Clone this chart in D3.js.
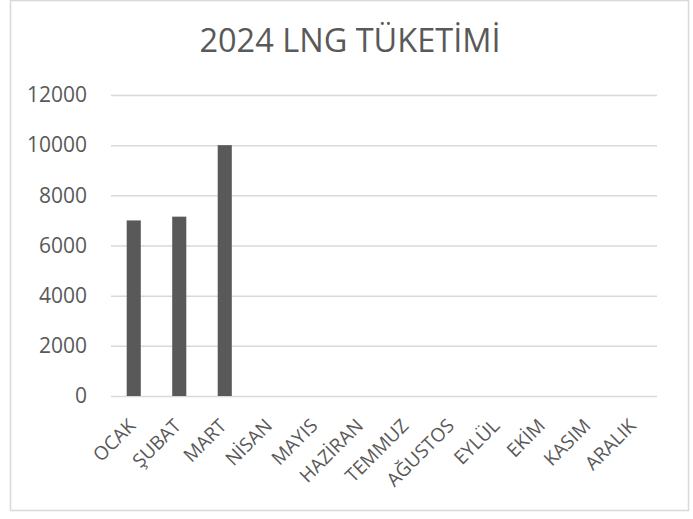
<!DOCTYPE html>
<html><head><meta charset="utf-8">
<script src="https://cdn.jsdelivr.net/npm/d3@7"></script>
<style>body{margin:0;background:#fff;} svg{display:block;}</style>
</head><body>
<script>
const title = "2024 LNG TÜKETİMİ";
const months = ["OCAK","ŞUBAT","MART","NİSAN","MAYIS","HAZİRAN","TEMMUZ","AĞUSTOS","EYLÜL","EKİM","KASIM","ARALIK"];
const values = [7000, 7150, 10000, null, null, null, null, null, null, null, null, null];
const yTicks = [0, 2000, 4000, 6000, 8000, 10000, 12000];

const W = 693, H = 519;
const margin = {left: 111, right: 36, top: 95, bottom: 123};
const svg = d3.select("body").append("svg").attr("width", W).attr("height", H);
svg.append("rect").attr("width", W).attr("height", H).attr("fill", "#fff");
svg.append("rect").attr("x", 10.5).attr("y", 0.5).attr("width", 678).attr("height", 510)
  .attr("fill", "none").attr("stroke", "#d9d9d9").attr("stroke-width", 1.5);

const font = "'Open Sans', sans-serif";
const x = d3.scaleBand().domain(months).range([margin.left, W - margin.right]).paddingInner(0.69).paddingOuter(0.345);
const y = d3.scaleLinear().domain([0, 12000]).range([H - margin.bottom, margin.top]);

svg.append("text").attr("x", 350).attr("y", 52).attr("text-anchor", "middle")
  .attr("font-family", font).attr("font-size", 32.5).attr("fill", "#595959").text(title);

const yAxis = svg.append("g").attr("transform", `translate(${margin.left},0)`)
  .call(d3.axisLeft(y).tickValues(yTicks).tickSize(-(W - margin.left - margin.right)).tickPadding(24).tickFormat(d3.format("d")));
yAxis.select(".domain").remove();
yAxis.selectAll(".tick line").attr("stroke", "#d9d9d9").attr("stroke-width", 1.5);
yAxis.selectAll(".tick text").attr("font-family", font).attr("font-size", 21).attr("fill", "#595959");

svg.append("g").selectAll("rect").data(months.map((m, i) => ({m, v: values[i]})).filter(d => d.v != null))
  .join("rect")
  .attr("x", d => x(d.m)).attr("width", x.bandwidth())
  .attr("y", d => y(d.v)).attr("height", d => y(0) - y(d.v))
  .attr("fill", "#595959");

const xAxis = svg.append("g").attr("transform", `translate(0,${H - margin.bottom})`)
  .call(d3.axisBottom(x).tickSize(0).tickPadding(0));
xAxis.select(".domain").remove();
xAxis.selectAll(".tick text")
  .attr("font-family", font).attr("font-size", 19).attr("fill", "#595959")
  .attr("text-anchor", "end").attr("dy", null).attr("y", 0)
  .attr("transform", "translate(3,31) rotate(-45)");
</script>
</body></html>
